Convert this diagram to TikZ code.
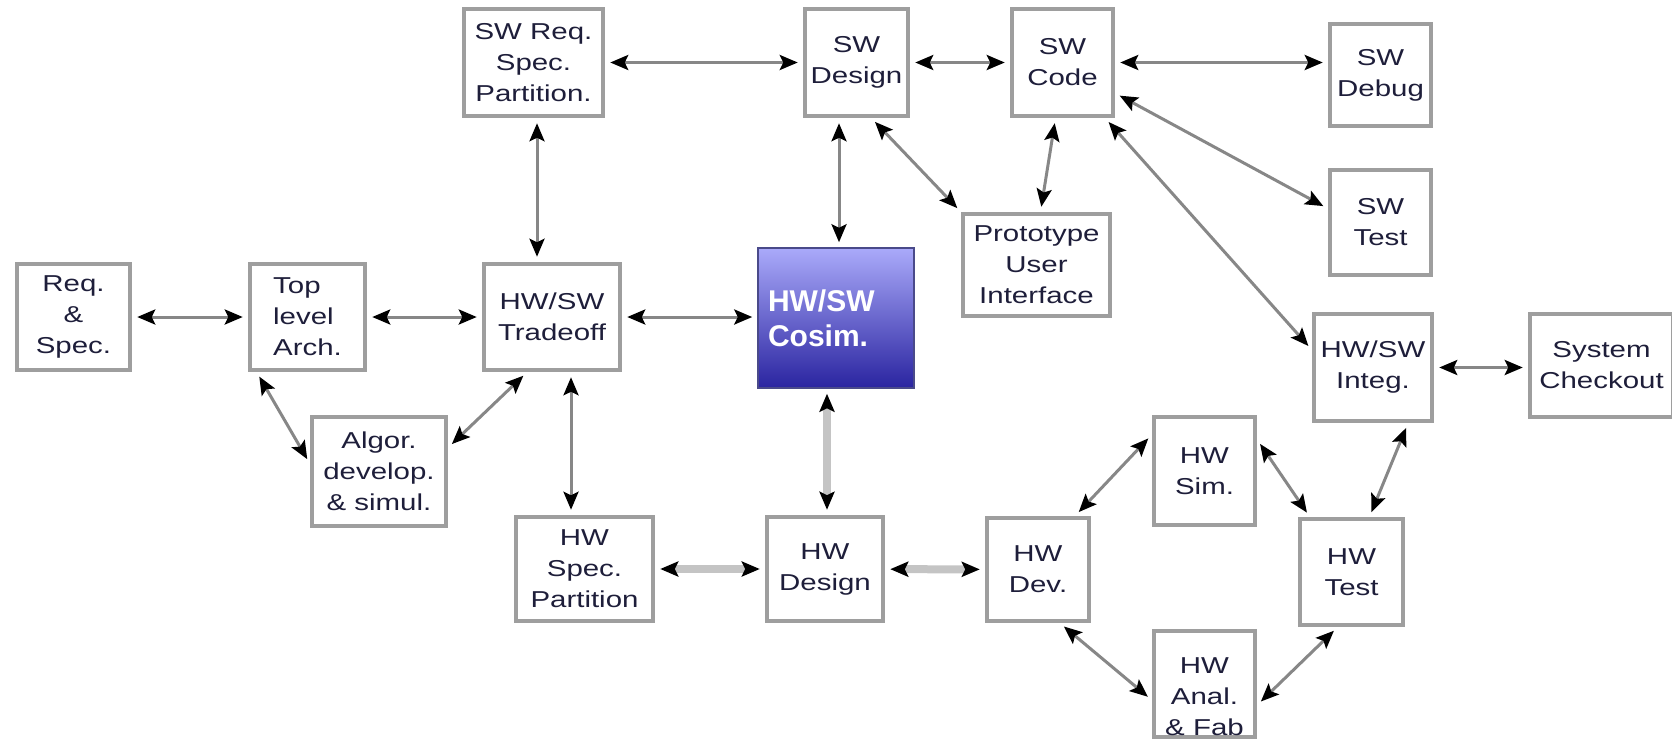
\documentclass[tikz,border=0pt]{standalone}
\usepackage{fontspec}
\setmainfont{Liberation Sans}[FakeStretch=1.28]
\newfontfamily\cosimfont{Liberation Sans}
\usetikzlibrary{arrows.meta,calc}

\definecolor{frame}{HTML}{9E9E9E}
\definecolor{wire}{HTML}{878787}
\definecolor{wirelight}{HTML}{C4C4C4}
\definecolor{ink}{HTML}{1E1E3A}
\definecolor{cosimtop}{HTML}{AAAAFA}
\definecolor{cosimbot}{HTML}{2A24A0}
\definecolor{cosimedge}{HTML}{4A4A8A}

\tikzset{
  blk/.style={rectangle, draw=frame, line width=4.5pt, fill=white,
    align=center, text=ink, inner sep=0pt,
    font=\fontsize{23}{31}\selectfont},
  blktext/.style={align=center, text=ink, inner sep=0pt,
    font=\fontsize{23}{31}\selectfont},
  cosimblk/.style={rectangle, draw=cosimedge, line width=1.5pt,
    top color=cosimtop, bottom color=cosimbot, text=white,
    align=left, text width=136pt, inner sep=0pt,
    font=\cosimfont\bfseries\fontsize{30}{35}\selectfont},
  tip/.tip={Stealth[length=18pt, width=15pt, inset=3.5pt, color=black]},
  link/.style={draw=wire, line width=3pt, {tip}-{tip},
    shorten <=5pt, shorten >=5pt},
  biglink/.style={link, draw=wirelight, line width=8pt},
}

\begin{document}
\begin{tikzpicture}[x=1pt, y=-1pt]
\useasboundingbox (0,0) rectangle (1672,739);
\clip (0,0) rectangle (1672,739);

% ---- blocks ----
\node[blk, minimum width=113pt, minimum height=106pt] (req) at (73.5,317) {Req.\\\&\\Spec.};
\node[blk, minimum width=115pt, minimum height=106pt, align=left] (top) at (307.5,317) {Top\\level\\Arch.};
\node[blk, minimum width=136pt, minimum height=106pt] (trade) at (552,317) {HW/SW\\Tradeoff};
\node[blk, minimum width=134pt, minimum height=109pt] (algor) at (379,471.5) {Algor.\\develop.\\\& simul.};

\node[blk, minimum width=139pt, minimum height=107pt] (swreq) at (533.5,62.5) {SW Req.\\Spec.\\Partition.};
\node[blk, minimum width=103pt, minimum height=107pt] (swdes) at (856.5,62.5) {SW\\Design};
\node[blk, minimum width=101pt, minimum height=107pt] (swcode) at (1062.5,62.5) {SW\\Code};
\node[blk, minimum width=101pt, minimum height=102pt] (swdebug) at (1380.5,75) {SW\\Debug};
\node[blk, minimum width=101pt, minimum height=105pt] (swtest) at (1380.5,222.5) {SW\\Test};
\node[blk, minimum width=147pt, minimum height=102pt] (proto) at (1036.5,265) {Prototype\\User\\Interface};

\node[cosimblk, minimum width=156pt, minimum height=140pt] (cosim) at (836,318) {HW/SW\\Cosim.};

\node[blk, minimum width=137pt, minimum height=104pt] (hwspec) at (584.5,569) {HW\\Spec.\\Partition};
\node[blk, minimum width=116pt, minimum height=104pt] (hwdes) at (825,569) {HW\\Design};
\node[blk, minimum width=102pt, minimum height=103pt] (hwdev) at (1038,569.5) {HW\\Dev.};
\node[blk, minimum width=101pt, minimum height=108pt] (hwsim) at (1204.5,471) {HW\\Sim.};
\node[blk, minimum width=103pt, minimum height=106pt] (hwtest) at (1351.5,572) {HW\\Test};
\node[blk, minimum width=101pt, minimum height=106pt] (hwanal) at (1204.5,684) {};
\node[blktext] (hwanaltext) at (1204.5,697) {HW\\Anal.\\\& Fab};
\node[blk, minimum width=118pt, minimum height=107pt] (hwinteg) at (1373,367.5) {HW/SW\\Integ.};
\node[blk, minimum width=143pt, minimum height=103pt] (syscheck) at (1601.5,365.5) {System\\Checkout};

% ---- end points of offset connectors ----
\coordinate (swreqS) at ($(swreq.south)+(3.5,0)$);
\coordinate (swdesS) at ($(swdes.south)+(-17.5,0)$);
\coordinate (tradeS) at ($(trade.south)+(19,0)$);
\coordinate (cosimS) at ($(cosim.south)+(-9,0)$);

% ---- connectors ----
\draw[link] (req) -- (top);
\draw[link] (top) -- (trade);
\draw[link] (trade.east) -- (trade.east -| cosim.west);
\draw[link] (swreq) -- (swdes);
\draw[link] (swdes) -- (swcode);
\draw[link] (swcode.east) -- (swcode.east -| swdebug.west);
\draw[link] (swreqS) -- (swreqS |- trade.north);
\draw[link] (swdesS) -- (swdesS |- cosim.north);
\draw[link] (tradeS) -- (tradeS |- hwspec.north);
\draw[biglink] (cosimS) -- (cosimS |- hwdes.north);
\draw[biglink] (hwspec) -- (hwdes);
\draw[biglink] (hwdes) -- (hwdev);
\draw[link] (hwinteg.east) -- (hwinteg.east -| syscheck.west);

\draw[link] ($(top.south west)+(9,0)$) -- ($(algor.west)+(0,-8)$);
\draw[link] ($(algor.east)+(0,-24)$) -- ($(trade.south)+(-25,0)$);
\draw[link] ($(swdes.south)+(15,0)$) -- (proto.north west);
\draw[link] ($(swcode.south)+(-7,0)$) -- ($(proto.north)+(4,0)$);
\draw[link] ($(swcode.south east)+(0,-25)$) -- ($(swtest.west)+(0,-14)$);
\draw[link] ($(swcode.south east)+(-10,0)$) -- ($(hwinteg.north west)+(0,38)$);
\draw[link] ($(hwdev.north east)+(-16,0)$) -- ($(hwsim.north west)+(0,20)$);
\draw[link] ($(hwsim.north east)+(0,25)$) -- ($(hwtest.north west)+(12,0)$);
\draw[link] ($(hwdev.south)+(22,0)$) -- ($(hwanal.west)+(0,16)$);
\draw[link] ($(hwanal.east)+(0,21)$) -- ($(hwtest.south)+(-14,0)$);
\draw[link] ($(hwtest.north)+(18,0)$) -- ($(hwinteg.south)+(35,0)$);
\end{tikzpicture}
\end{document}
